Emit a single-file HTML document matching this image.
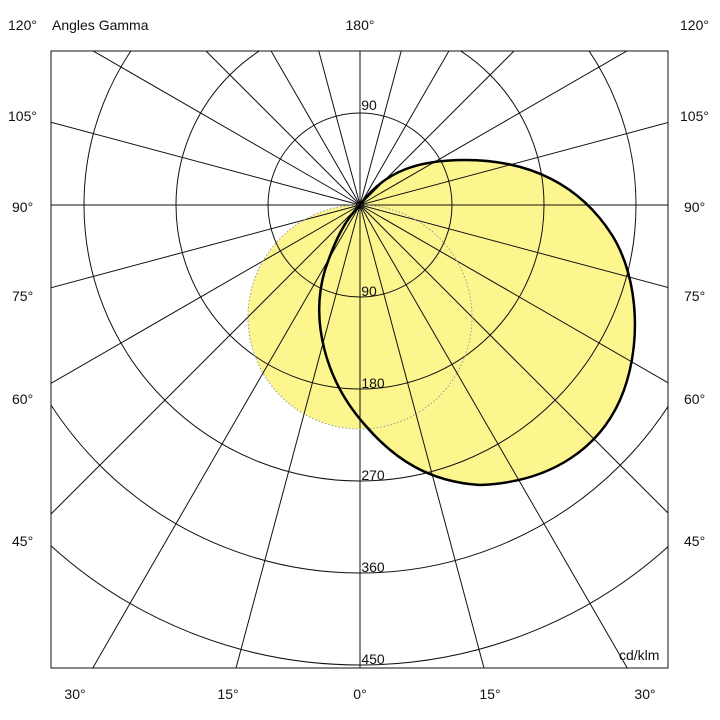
<!DOCTYPE html>
<html><head><meta charset="utf-8"><style>
html,body{margin:0;padding:0;background:#fff;width:720px;height:720px;overflow:hidden}
svg{display:block}
svg text{font-family:"Liberation Sans",Arial,sans-serif;font-size:14px;fill:#111}
</style></head><body>
<svg width="720" height="720" viewBox="0 0 720 720" xmlns="http://www.w3.org/2000/svg">
<defs><clipPath id="c"><rect x="51" y="51" width="617" height="617"/></clipPath></defs>
<g clip-path="url(#c)">
<circle cx="360" cy="317" r="112" fill="#fdf68f"/>
<path d="M360,205 C385,170 420,160 465,160 C530,160 580,185 612,235 C640,280 642,350 620,400 C600,445 555,482 480,485 C430,482 395,460 365,425 C325,380 310,320 325,270 C335,240 345,220 360,205 Z" fill="#fdf68f"/>
<g stroke="#111" stroke-width="1" fill="none">
<circle cx="360" cy="205" r="92"/><circle cx="360" cy="205" r="184"/><circle cx="360" cy="205" r="276"/><circle cx="360" cy="205" r="368"/><circle cx="360" cy="205" r="460"/>
<g id="sp">
<line x1="360" y1="205" x2="360" y2="1005"/>
<line x1="360" y1="205" x2="567" y2="978"/>
<line x1="360" y1="205" x2="760" y2="898"/>
<line x1="360" y1="205" x2="926" y2="771"/>
<line x1="360" y1="205" x2="1053" y2="605"/>
<line x1="360" y1="205" x2="1133" y2="412"/>
<line x1="360" y1="205" x2="1160" y2="205"/>
<line x1="360" y1="205" x2="1133" y2="-2"/>
<line x1="360" y1="205" x2="1053" y2="-195"/>
<line x1="360" y1="205" x2="926" y2="-361"/>
<line x1="360" y1="205" x2="760" y2="-488"/>
<line x1="360" y1="205" x2="567" y2="-568"/>
<line x1="360" y1="205" x2="360" y2="-595"/>
</g>
<use href="#sp" transform="translate(720,0) scale(-1,1)"/>
</g>
<circle cx="360" cy="317" r="112" fill="none" stroke="#999" stroke-width="1" stroke-dasharray="1.5,2"/>
<path d="M360,205 C385,170 420,160 465,160 C530,160 580,185 612,235 C640,280 642,350 620,400 C600,445 555,482 480,485 C430,482 395,460 365,425 C325,380 310,320 325,270 C335,240 345,220 360,205 Z" fill="none" stroke="#000" stroke-width="2.5"/>
</g>
<rect x="51" y="51" width="617" height="617" fill="none" stroke="#111" stroke-width="1"/>
<g text-anchor="middle">
<text x="369" y="110">90</text><text x="369" y="296">90</text><text x="373" y="388">180</text><text x="373" y="480">270</text><text x="373" y="572">360</text><text x="373" y="664">450</text>
<text x="360" y="30">180°</text>
<text x="75" y="699">30°</text><text x="228" y="699">15°</text><text x="360" y="699">0°</text><text x="490" y="699">15°</text><text x="645" y="699">30°</text>
</g>
<g text-anchor="start">
<text x="8" y="30">120°</text><text x="52" y="30">Angles Gamma</text>
<text x="8" y="121">105°</text><text x="12" y="212">90°</text><text x="12" y="301">75°</text><text x="12" y="404">60°</text><text x="12" y="546">45°</text>
<text x="680" y="30">120°</text><text x="680" y="121">105°</text><text x="684" y="212">90°</text><text x="684" y="301">75°</text><text x="684" y="404">60°</text><text x="684" y="546">45°</text>
<text x="619" y="660">cd/klm</text>
</g>
</svg>
</body></html>
